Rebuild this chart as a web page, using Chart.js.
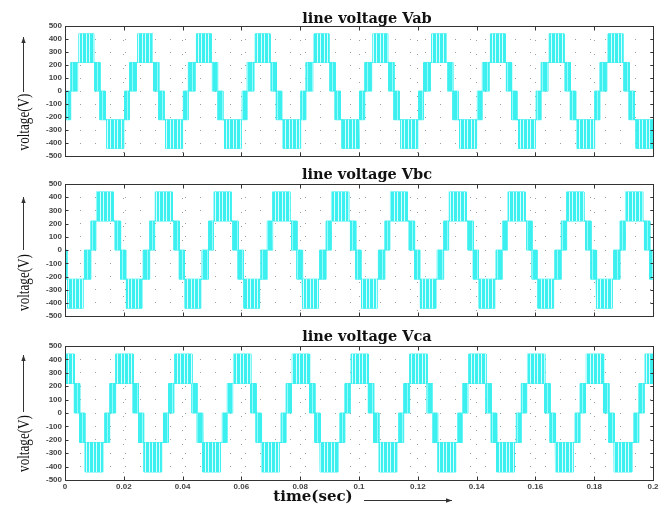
<!DOCTYPE html>
<html><head><meta charset="utf-8">
<script src="https://cdn.jsdelivr.net/npm/chart.js@4.4.0/dist/chart.umd.min.js"></script>
<style>
html,body{margin:0;padding:0;background:#fff;}
#wrap{position:relative;width:670px;height:509px;overflow:hidden;background:#fff;}
canvas{position:absolute;left:0;}
</style></head><body>
<div id="wrap">
<canvas id="c1" width="670" height="164" style="top:0px"></canvas>
<canvas id="c2" width="670" height="160" style="top:164px"></canvas>
<canvas id="c3" width="670" height="185" style="top:324px"></canvas>
</div>
<script>
// ---- axis ticks ----
const timeTicks = [0, 0.02, 0.04, 0.06, 0.08, 0.1, 0.12, 0.14, 0.16, 0.18, 0.2];
const timeTickLabels = ['0', '0.02', '0.04', '0.06', '0.08', '0.1', '0.12', '0.14', '0.16', '0.18', '0.2'];
const voltTicks = [-500, -400, -300, -200, -100, 0, 100, 200, 300, 400, 500];

// ---- voltage levels of the 5-level line voltage ----
const levels = [-440, -220, 0, 220, 440];
// band codes: 2 = PWM 220..440, 1 = PWM 0..220, -1 = PWM -220..0, -2 = PWM -440..-220,
//             3 = flat at +220, -3 = flat at -220

// ---- Vab: segment edges (ms) and band codes ----
const vabEdgesMs = [
  0, 0.25, 1.95, 4.3, 4.7, 9.75, 10.15, 11.9, 13.7, 14.25,
  20, 20.25, 21.95, 24.3, 24.7, 29.75, 30.15, 31.9, 33.7, 34.25,
  40, 40.25, 41.95, 44.3, 44.7, 49.75, 50.15, 51.9, 53.7, 54.25,
  60, 60.25, 61.95, 64.3, 64.7, 69.75, 70.15, 71.9, 73.7, 74.25,
  80, 80.25, 81.95, 84.3, 84.7, 89.75, 90.15, 91.9, 93.7, 94.25,
  100, 100.25, 101.95, 104.3, 104.7, 109.75, 110.15, 111.9, 113.7, 114.25,
  120, 120.25, 121.95, 124.3, 124.7, 129.75, 130.15, 131.9, 133.7, 134.25,
  140, 140.25, 141.95, 144.3, 144.7, 149.75, 150.15, 151.9, 153.7, 154.25,
  160, 160.25, 161.95, 164.3, 164.7, 169.75, 170.15, 171.9, 173.7, 174.25,
  180, 180.25, 181.95, 184.3, 184.7, 189.75, 190.15, 191.9, 193.7, 194.25,
  200
];
const vabBands = [
  -3, -1, 1, 3, 2, 3, 1, -1, -3, -2,
  -3, -1, 1, 3, 2, 3, 1, -1, -3, -2,
  -3, -1, 1, 3, 2, 3, 1, -1, -3, -2,
  -3, -1, 1, 3, 2, 3, 1, -1, -3, -2,
  -3, -1, 1, 3, 2, 3, 1, -1, -3, -2,
  -3, -1, 1, 3, 2, 3, 1, -1, -3, -2,
  -3, -1, 1, 3, 2, 3, 1, -1, -3, -2,
  -3, -1, 1, 3, 2, 3, 1, -1, -3, -2,
  -3, -1, 1, 3, 2, 3, 1, -1, -3, -2,
  -3, -1, 1, 3, 2, 3, 1, -1, -3, -2
];

// ---- Vbc ----
const vbcEdgesMs = [
  0, 0.65, 0.9, 6.2, 6.6, 8.8, 10.5, 10.7, 16.5, 17.1, 18.9,
  20, 20.65, 20.9, 26.2, 26.6, 28.8, 30.5, 30.7, 36.5, 37.1, 38.9,
  40, 40.65, 40.9, 46.2, 46.6, 48.8, 50.5, 50.7, 56.5, 57.1, 58.9,
  60, 60.65, 60.9, 66.2, 66.6, 68.8, 70.5, 70.7, 76.5, 77.1, 78.9,
  80, 80.65, 80.9, 86.2, 86.6, 88.8, 90.5, 90.7, 96.5, 97.1, 98.9,
  100, 100.65, 100.9, 106.2, 106.6, 108.8, 110.5, 110.7, 116.5, 117.1, 118.9,
  120, 120.65, 120.9, 126.2, 126.6, 128.8, 130.5, 130.7, 136.5, 137.1, 138.9,
  140, 140.65, 140.9, 146.2, 146.6, 148.8, 150.5, 150.7, 156.5, 157.1, 158.9,
  160, 160.65, 160.9, 166.2, 166.6, 168.8, 170.5, 170.7, 176.5, 177.1, 178.9,
  180, 180.65, 180.9, 186.2, 186.6, 188.8, 190.5, 190.7, 196.5, 197.1, 198.9,
  200
];
const vbcBands = [
  -1, -3, -2, -3, -1, 1, 3, 2, 3, 1, -1,
  -1, -3, -2, -3, -1, 1, 3, 2, 3, 1, -1,
  -1, -3, -2, -3, -1, 1, 3, 2, 3, 1, -1,
  -1, -3, -2, -3, -1, 1, 3, 2, 3, 1, -1,
  -1, -3, -2, -3, -1, 1, 3, 2, 3, 1, -1,
  -1, -3, -2, -3, -1, 1, 3, 2, 3, 1, -1,
  -1, -3, -2, -3, -1, 1, 3, 2, 3, 1, -1,
  -1, -3, -2, -3, -1, 1, 3, 2, 3, 1, -1,
  -1, -3, -2, -3, -1, 1, 3, 2, 3, 1, -1,
  -1, -3, -2, -3, -1, 1, 3, 2, 3, 1, -1
];

// ---- Vca ----
const vcaEdgesMs = [
  0, 3.2, 5, 6.75, 6.9, 12.9, 13.5, 15.2, 17.05, 17.3,
  20, 23.2, 25, 26.75, 26.9, 32.9, 33.5, 35.2, 37.05, 37.3,
  40, 43.2, 45, 46.75, 46.9, 52.9, 53.5, 55.2, 57.05, 57.3,
  60, 63.2, 65, 66.75, 66.9, 72.9, 73.5, 75.2, 77.05, 77.3,
  80, 83.2, 85, 86.75, 86.9, 92.9, 93.5, 95.2, 97.05, 97.3,
  100, 103.2, 105, 106.75, 106.9, 112.9, 113.5, 115.2, 117.05, 117.3,
  120, 123.2, 125, 126.75, 126.9, 132.9, 133.5, 135.2, 137.05, 137.3,
  140, 143.2, 145, 146.75, 146.9, 152.9, 153.5, 155.2, 157.05, 157.3,
  160, 163.2, 165, 166.75, 166.9, 172.9, 173.5, 175.2, 177.05, 177.3,
  180, 183.2, 185, 186.75, 186.9, 192.9, 193.5, 195.2, 197.05, 197.3,
  200
];
const vcaBands = [
  2, 1, -1, -3, -2, -3, -1, 1, 3, 2,
  2, 1, -1, -3, -2, -3, -1, 1, 3, 2,
  2, 1, -1, -3, -2, -3, -1, 1, 3, 2,
  2, 1, -1, -3, -2, -3, -1, 1, 3, 2,
  2, 1, -1, -3, -2, -3, -1, 1, 3, 2,
  2, 1, -1, -3, -2, -3, -1, 1, 3, 2,
  2, 1, -1, -3, -2, -3, -1, 1, 3, 2,
  2, 1, -1, -3, -2, -3, -1, 1, 3, 2,
  2, 1, -1, -3, -2, -3, -1, 1, 3, 2,
  2, 1, -1, -3, -2, -3, -1, 1, 3, 2
];

const titles = ['line voltage Vab', 'line voltage Vbc', 'line voltage Vca'];
const yTitle = 'voltage(V)';
const xTitle = 'time(sec)';

// ---------------------------------------------------------------
const CYAN = 'rgb(60,240,240)';

function bandRange(code) {
  switch (code) {
    case 2: return [levels[3], levels[4]];
    case 1: return [levels[2], levels[3]];
    case -1: return [levels[1], levels[2]];
    case -2: return [levels[0], levels[1]];
    case 3: return [levels[3], levels[3]];
    case -3: return [levels[1], levels[1]];
  }
  return [0, 0];
}

function buildSeries(edgesMs, bands) {
  const s = {envHi: [], envLo: [], outHi: [], outLo: [], inHi: [], inLo: []};
  for (let i = 0; i < bands.length; i++) {
    const t0 = edgesMs[i] / 1000, t1 = edgesMs[i + 1] / 1000;
    const [lo, hi] = bandRange(bands[i]);
    const isOut = Math.abs(bands[i]) === 2, isIn = Math.abs(bands[i]) === 1;
    const push = (arr, y) => { arr.push({x: t0, y: y}, {x: t1, y: y}); };
    push(s.envHi, hi); push(s.envLo, lo);
    push(s.outHi, isOut ? hi : lo); push(s.outLo, lo);
    push(s.inHi, isIn ? hi : lo); push(s.inLo, lo);
  }
  return s;
}

function makePattern(tileW, lightCols, base, light) {
  const c = document.createElement('canvas');
  c.width = tileW; c.height = 4;
  const x = c.getContext('2d');
  x.fillStyle = base; x.fillRect(0, 0, tileW, 4);
  x.fillStyle = light;
  lightCols.forEach(i => x.fillRect(i, 0, 1, 4));
  return x.createPattern(c, 'repeat');
}
const outerPattern = makePattern(7, [2, 5], CYAN, 'rgb(215,255,255)');
const innerPattern = makePattern(5, [2], CYAN, 'rgb(150,250,250)');

function arrow(ctx, x1, y1, x2, y2) {
  ctx.save();
  ctx.strokeStyle = '#333'; ctx.fillStyle = '#333'; ctx.lineWidth = 1;
  ctx.beginPath(); ctx.moveTo(x1, y1); ctx.lineTo(x2, y2); ctx.stroke();
  const ang = Math.atan2(y2 - y1, x2 - x1), L = 6, W = 2.2;
  ctx.beginPath();
  ctx.moveTo(x2, y2);
  ctx.lineTo(x2 - L * Math.cos(ang) + W * Math.sin(ang), y2 - L * Math.sin(ang) - W * Math.cos(ang));
  ctx.lineTo(x2 - L * Math.cos(ang) - W * Math.sin(ang), y2 - L * Math.sin(ang) + W * Math.cos(ang));
  ctx.closePath(); ctx.fill();
  ctx.restore();
}

function decor(cfg) {
  return {
    id: 'decor',
    afterDraw(chart) {
      const {ctx, chartArea: a, scales: {x, y}} = chart;
      ctx.save();
      // frame
      const L = Math.round(a.left) + 0.5, T = Math.round(a.top) + 0.5;
      const R = Math.round(a.right) + 0.5, B = Math.round(a.bottom) + 0.5;
      ctx.strokeStyle = '#333'; ctx.lineWidth = 1;
      ctx.strokeRect(L, T, R - L, B - T);
      // inward tick marks
      ctx.beginPath();
      timeTicks.forEach(v => {
        const px = Math.round(x.getPixelForValue(v)) + 0.5;
        ctx.moveTo(px, B); ctx.lineTo(px, B - 4);
        ctx.moveTo(px, T); ctx.lineTo(px, T + 4);
      });
      voltTicks.forEach(v => {
        const py = Math.round(y.getPixelForValue(v)) + 0.5;
        ctx.moveTo(L, py); ctx.lineTo(L + 3, py);
        ctx.moveTo(R, py); ctx.lineTo(R - 3, py);
      });
      ctx.stroke();
      // panel title
      ctx.fillStyle = '#111';
      ctx.font = 'bold 14.5px "DejaVu Serif"';
      ctx.textAlign = 'center'; ctx.textBaseline = 'alphabetic';
      ctx.fillText(cfg.title, 367, cfg.titleY);
      // y title rotated with arrow
      ctx.save();
      ctx.translate(25, cfg.yTextC);
      ctx.rotate(-Math.PI / 2);
      ctx.scale(0.82, 1);
      ctx.font = '16px "Liberation Serif"';
      ctx.textAlign = 'center'; ctx.textBaseline = 'middle';
      ctx.fillStyle = '#111';
      ctx.fillText(yTitle, 0, 0);
      ctx.restore();
      arrow(ctx, 23.5, cfg.arrowFrom, 23.5, cfg.arrowTo);
      // x title
      if (cfg.showX) {
        ctx.fillStyle = '#111';
        ctx.font = 'bold 15px "DejaVu Serif"';
        ctx.textAlign = 'center'; ctx.textBaseline = 'alphabetic';
        ctx.fillText(xTitle, 313, 177);
        arrow(ctx, 364, 176.5, 452, 176.5);
      }
      ctx.restore();
    }
  };
}

Chart.defaults.font.family = '"Liberation Sans", Arial, sans-serif';

function makeChart(id, series, cfg) {
  const base = {pointRadius: 0, borderColor: 'transparent', borderWidth: 0, tension: 0};
  return new Chart(document.getElementById(id), {
    type: 'line',
    data: {datasets: [
      Object.assign({data: series.outHi, fill: '+1', backgroundColor: outerPattern}, base),
      Object.assign({data: series.outLo, fill: false}, base),
      Object.assign({data: series.inHi, fill: '+1', backgroundColor: innerPattern}, base),
      Object.assign({data: series.inLo, fill: false}, base),
      {data: series.envHi, fill: false, borderColor: CYAN, borderWidth: 1, pointRadius: 0, tension: 0},
      {data: series.envLo, fill: false, borderColor: CYAN, borderWidth: 1, pointRadius: 0, tension: 0}
    ]},
    options: {
      responsive: false, animation: false, devicePixelRatio: 1, events: [],
      parsing: false,
      layout: {padding: {top: cfg.top, right: 17, left: 0, bottom: 0}},
      plugins: {legend: {display: false}, tooltip: {enabled: false}, title: {display: false}},
      scales: {
        x: {
          type: 'linear', min: 0, max: 0.2,
          afterBuildTicks: s => { s.ticks = timeTicks.map(v => ({value: v})); },
          afterFit: s => { s.height = cfg.xh; },
          ticks: {display: cfg.showX, autoSkip: false, maxRotation: 0, padding: 2,
                  callback: (v, i) => timeTickLabels[i],
                  font: {size: 8, weight: 'bold'}, color: '#444'},
          grid: {color: '#a0a0a0', lineWidth: 1, drawTicks: false},
          border: {display: false, dash: [1, 13]}
        },
        y: {
          type: 'linear', min: -500, max: 500,
          afterBuildTicks: s => { s.ticks = voltTicks.map(v => ({value: v})); },
          afterFit: s => { s.width = 65; },
          ticks: {autoSkip: false, padding: 3, callback: (v) => String(v),
                  font: {size: 8, weight: 'bold'}, color: '#444'},
          grid: {color: '#a0a0a0', lineWidth: 1, drawTicks: false},
          border: {display: false, dash: [1, 14]}
        }
      }
    },
    plugins: [decor(cfg)]
  });
}

makeChart('c1', buildSeries(vabEdgesMs, vabBands),
  {top: 26, xh: 4, showX: false, title: titles[0], titleY: 23, yTextC: 122, arrowFrom: 92, arrowTo: 37});
makeChart('c2', buildSeries(vbcEdgesMs, vbcBands),
  {top: 20, xh: 6, showX: false, title: titles[1], titleY: 15, yTextC: 118.5, arrowFrom: 86, arrowTo: 33});
makeChart('c3', buildSeries(vcaEdgesMs, vcaBands),
  {top: 22, xh: 29, showX: true, title: titles[2], titleY: 17, yTextC: 119.5, arrowFrom: 88, arrowTo: 31});
</script>
</body></html>
